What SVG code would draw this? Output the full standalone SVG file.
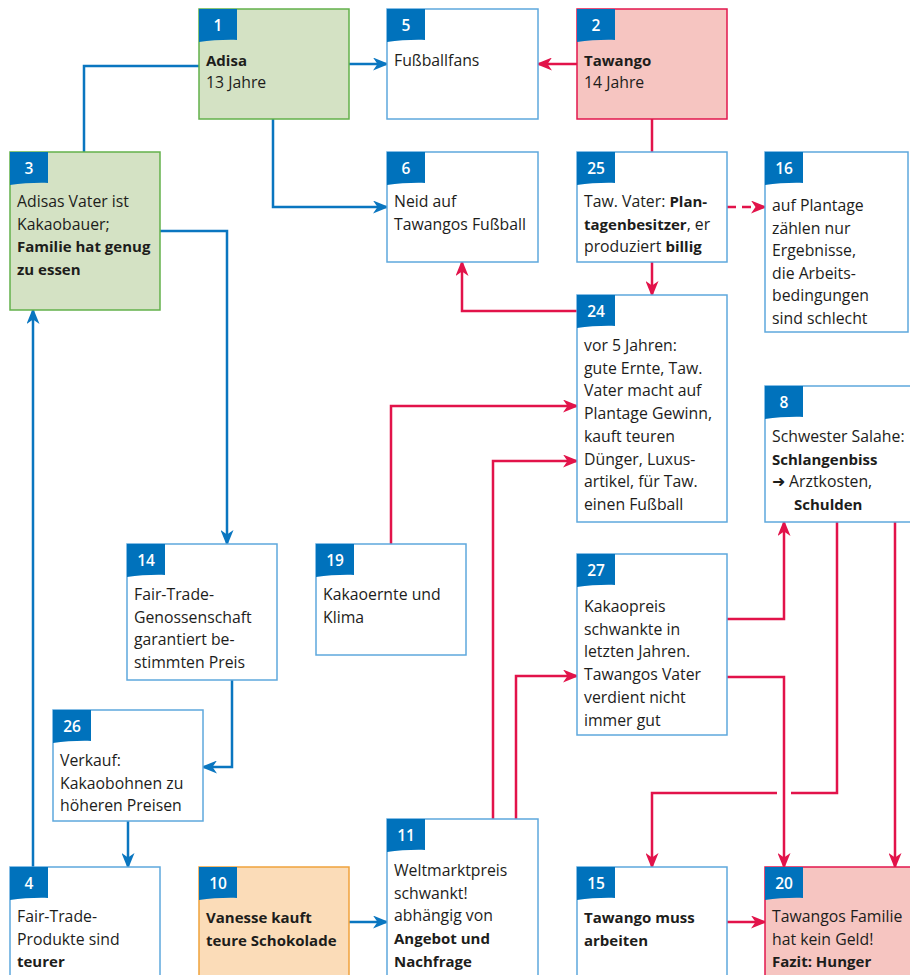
<svg xmlns="http://www.w3.org/2000/svg" xmlns:xlink="http://www.w3.org/1999/xlink" width="910" height="975" viewBox="0 0 910 975">
<style>
.box{fill:#fff;stroke:#5ea8dd;stroke-width:1.5}
.green{fill:#d4e2c4;stroke:#63b14b}
.pink{fill:#f6c5c1;stroke:#e2174d}
.orange{fill:#fbdcb8;stroke:#f0a23c}
.num{fill:#fff;font-family:"Open Sans","Noto Sans",sans-serif;font-size:15.5px;font-weight:600;text-anchor:middle}
.t{fill:#1d1d1b;font-family:"Open Sans","Noto Sans",sans-serif;font-size:15.8px}
.b{font-weight:700;font-size:15px}
.cb{fill:none;stroke:#0a76c0;stroke-width:2.5}
.cr{fill:none;stroke:#e2134a;stroke-width:2.5}
</style>
<defs>
<path id="bdg" d="M0,0 h38 v31 c-12,-0.5 -26,0.5 -38,2 z" fill="#0072bc"/>
<marker id="ab" markerUnits="userSpaceOnUse" markerWidth="16" markerHeight="13" refX="14" refY="6.5" orient="auto"><path d="M0,0 L16,6.5 L0,13 L4.5,6.5 Z" fill="#0a76c0"/></marker>
<marker id="ar" markerUnits="userSpaceOnUse" markerWidth="16" markerHeight="13" refX="14" refY="6.5" orient="auto"><path d="M0,0 L16,6.5 L0,13 L4.5,6.5 Z" fill="#e2134a"/></marker>
</defs>

<g id="connectors">
<path class="cb" d="M349,64 H387" marker-end="url(#ab)"/>
<path class="cb" d="M199,66 H84 V152"/>
<path class="cb" d="M273,119 V207 H387" marker-end="url(#ab)"/>
<path class="cb" d="M160,231 H227 V544" marker-end="url(#ab)"/>
<path class="cb" d="M232,680 V767 H203" marker-end="url(#ab)"/>
<path class="cb" d="M128,821 V867" marker-end="url(#ab)"/>
<path class="cb" d="M33,867 V310" marker-end="url(#ab)"/>
<path class="cb" d="M349,922 H387" marker-end="url(#ab)"/>
<path class="cr" d="M577,64 H538" marker-end="url(#ar)"/>
<path class="cr" d="M652,119 V152"/>
<path class="cr" d="M727,207 H765" stroke-dasharray="9 6" marker-end="url(#ar)"/>
<path class="cr" d="M652,262 V295" marker-end="url(#ar)"/>
<path class="cr" d="M577,311 H462 V262" marker-end="url(#ar)"/>
<path class="cr" d="M391,544 V406 H577" marker-end="url(#ar)"/>
<path class="cr" d="M493,819 V461 H577" marker-end="url(#ar)"/>
<path class="cr" d="M516,819 V676 H577" marker-end="url(#ar)"/>
<path class="cr" d="M727,619 H784 V522" marker-end="url(#ar)"/>
<path class="cr" d="M727,677 H784 V867" marker-end="url(#ar)"/>
<path class="cr" d="M837,522 V793 H791 M777,793 H652 V867" marker-end="url(#ar)"/>
<path class="cr" d="M895,522 V867" marker-end="url(#ar)"/>
<path class="cr" d="M727,922 H765" marker-end="url(#ar)"/>
</g>

<g id="n1"><rect class="box green" x="199" y="9" width="150" height="110"/><use xlink:href="#bdg" x="199" y="9"/><text class="num" x="218" y="31">1</text>
<text class="t" x="206"><tspan x="206" y="66" class="b">Adisa</tspan><tspan x="206" y="88">13 Jahre</tspan></text></g>

<g id="n5"><rect class="box" x="387" y="9" width="151" height="110"/><use xlink:href="#bdg" x="387" y="9"/><text class="num" x="406" y="31">5</text>
<text class="t"><tspan x="394" y="66">Fußballfans</tspan></text></g>

<g id="n2"><rect class="box pink" x="577" y="9" width="150" height="110"/><use xlink:href="#bdg" x="577" y="9"/><text class="num" x="596" y="31">2</text>
<text class="t"><tspan x="584" y="66" class="b">Tawango</tspan><tspan x="584" y="88">14 Jahre</tspan></text></g>

<g id="n3"><rect class="box green" x="10" y="152" width="150" height="158"/><use xlink:href="#bdg" x="10" y="152"/><text class="num" x="29" y="174">3</text>
<text class="t"><tspan x="17" y="207">Adisas Vater ist</tspan><tspan x="17" y="229.7">Kakaobauer;</tspan><tspan x="17" y="252.4" class="b">Familie hat genug</tspan><tspan x="17" y="275.1" class="b">zu essen</tspan></text></g>

<g id="n6"><rect class="box" x="387" y="152" width="151" height="110"/><use xlink:href="#bdg" x="387" y="152"/><text class="num" x="406" y="174">6</text>
<text class="t"><tspan x="394" y="207">Neid auf</tspan><tspan x="394" y="229.7">Tawangos Fußball</tspan></text></g>

<g id="n25"><rect class="box" x="577" y="152" width="150" height="110"/><use xlink:href="#bdg" x="577" y="152"/><text class="num" x="596" y="174">25</text>
<text class="t"><tspan x="584" y="207">Taw. Vater: <tspan class="b">Plan-</tspan></tspan><tspan x="584" y="229.7"><tspan class="b">tagenbesitzer</tspan>, er</tspan><tspan x="584" y="252.4">produziert <tspan class="b">billig</tspan></tspan></text></g>

<g id="n16"><rect class="box" x="765" y="152" width="143" height="180"/><use xlink:href="#bdg" x="765" y="152"/><text class="num" x="784" y="174">16</text>
<text class="t"><tspan x="772" y="211">auf Plantage</tspan><tspan x="772" y="233.5">zählen nur</tspan><tspan x="772" y="256">Ergebnisse,</tspan><tspan x="772" y="278.5">die Arbeits-</tspan><tspan x="772" y="301">bedingungen</tspan><tspan x="772" y="323.5">sind schlecht</tspan></text></g>

<g id="n24"><rect class="box" x="577" y="295" width="150" height="227"/><use xlink:href="#bdg" x="577" y="295"/><text class="num" x="596" y="317">24</text>
<text class="t"><tspan x="584" y="351">vor 5 Jahren:</tspan><tspan x="584" y="373.7">gute Ernte, Taw.</tspan><tspan x="584" y="396.4">Vater macht auf</tspan><tspan x="584" y="419.1">Plantage Gewinn,</tspan><tspan x="584" y="441.8">kauft teuren</tspan><tspan x="584" y="464.5">Dünger, Luxus-</tspan><tspan x="584" y="487.2">artikel, für Taw.</tspan><tspan x="584" y="509.9">einen Fußball</tspan></text></g>

<g id="n8"><rect class="box" x="765" y="386" width="150" height="136"/><use xlink:href="#bdg" x="765" y="386"/><text class="num" x="784" y="408">8</text>
<text class="t"><tspan x="772" y="442">Schwester Salahe:</tspan><tspan x="772" y="464.7" class="b">Schlangenbiss</tspan><tspan x="772" y="487.4">➜ Arztkosten,</tspan><tspan x="794" y="510.1" class="b">Schulden</tspan></text></g>

<g id="n14"><rect class="box" x="127" y="544" width="150" height="136"/><use xlink:href="#bdg" x="127" y="544"/><text class="num" x="146" y="566">14</text>
<text class="t"><tspan x="134" y="600">Fair-Trade-</tspan><tspan x="134" y="622.7">Genossenschaft</tspan><tspan x="134" y="645.4">garantiert be-</tspan><tspan x="134" y="668.1">stimmten Preis</tspan></text></g>

<g id="n19"><rect class="box" x="316" y="544" width="150" height="111"/><use xlink:href="#bdg" x="316" y="544"/><text class="num" x="335" y="566">19</text>
<text class="t"><tspan x="323" y="600">Kakaoernte und</tspan><tspan x="323" y="622.7">Klima</tspan></text></g>

<g id="n27"><rect class="box" x="577" y="554" width="150" height="181"/><use xlink:href="#bdg" x="577" y="554"/><text class="num" x="596" y="576">27</text>
<text class="t"><tspan x="584" y="612">Kakaopreis</tspan><tspan x="584" y="634.7">schwankte in</tspan><tspan x="584" y="657.4">letzten Jahren.</tspan><tspan x="584" y="680.1">Tawangos Vater</tspan><tspan x="584" y="702.8">verdient nicht</tspan><tspan x="584" y="725.5">immer gut</tspan></text></g>

<g id="n26"><rect class="box" x="53" y="710" width="150" height="111"/><use xlink:href="#bdg" x="53" y="710"/><text class="num" x="72" y="732">26</text>
<text class="t"><tspan x="60" y="766">Verkauf:</tspan><tspan x="60" y="788.7">Kakaobohnen zu</tspan><tspan x="60" y="811.4">höheren Preisen</tspan></text></g>

<g id="n11"><rect class="box" x="387" y="819" width="151" height="170"/><use xlink:href="#bdg" x="387" y="819"/><text class="num" x="406" y="841">11</text>
<text class="t"><tspan x="394" y="876">Weltmarktpreis</tspan><tspan x="394" y="898.7">schwankt!</tspan><tspan x="394" y="921.4">abhängig von</tspan><tspan x="394" y="944.1" class="b">Angebot und</tspan><tspan x="394" y="966.8" class="b">Nachfrage</tspan></text></g>

<g id="n4"><rect class="box" x="10" y="867" width="150" height="120"/><use xlink:href="#bdg" x="10" y="867"/><text class="num" x="29" y="889">4</text>
<text class="t"><tspan x="17" y="922">Fair-Trade-</tspan><tspan x="17" y="944.7">Produkte sind</tspan><tspan x="17" y="967.4" class="b">teurer</tspan></text></g>

<g id="n10"><rect class="box orange" x="199" y="867" width="150" height="120"/><use xlink:href="#bdg" x="199" y="867"/><text class="num" x="218" y="889">10</text>
<text class="t"><tspan x="206" y="923" class="b">Vanesse kauft</tspan><tspan x="206" y="945.7" class="b">teure Schokolade</tspan></text></g>

<g id="n15"><rect class="box" x="577" y="867" width="150" height="120"/><use xlink:href="#bdg" x="577" y="867"/><text class="num" x="596" y="889">15</text>
<text class="t"><tspan x="584" y="923" class="b">Tawango muss</tspan><tspan x="584" y="945.7" class="b">arbeiten</tspan></text></g>

<g id="n20"><rect class="box pink" x="765" y="867" width="150" height="120"/><use xlink:href="#bdg" x="765" y="867"/><text class="num" x="784" y="889">20</text>
<text class="t"><tspan x="772" y="922">Tawangos Familie</tspan><tspan x="772" y="944.7">hat kein Geld!</tspan><tspan x="772" y="967.4" class="b">Fazit: Hunger</tspan></text></g>
</svg>
